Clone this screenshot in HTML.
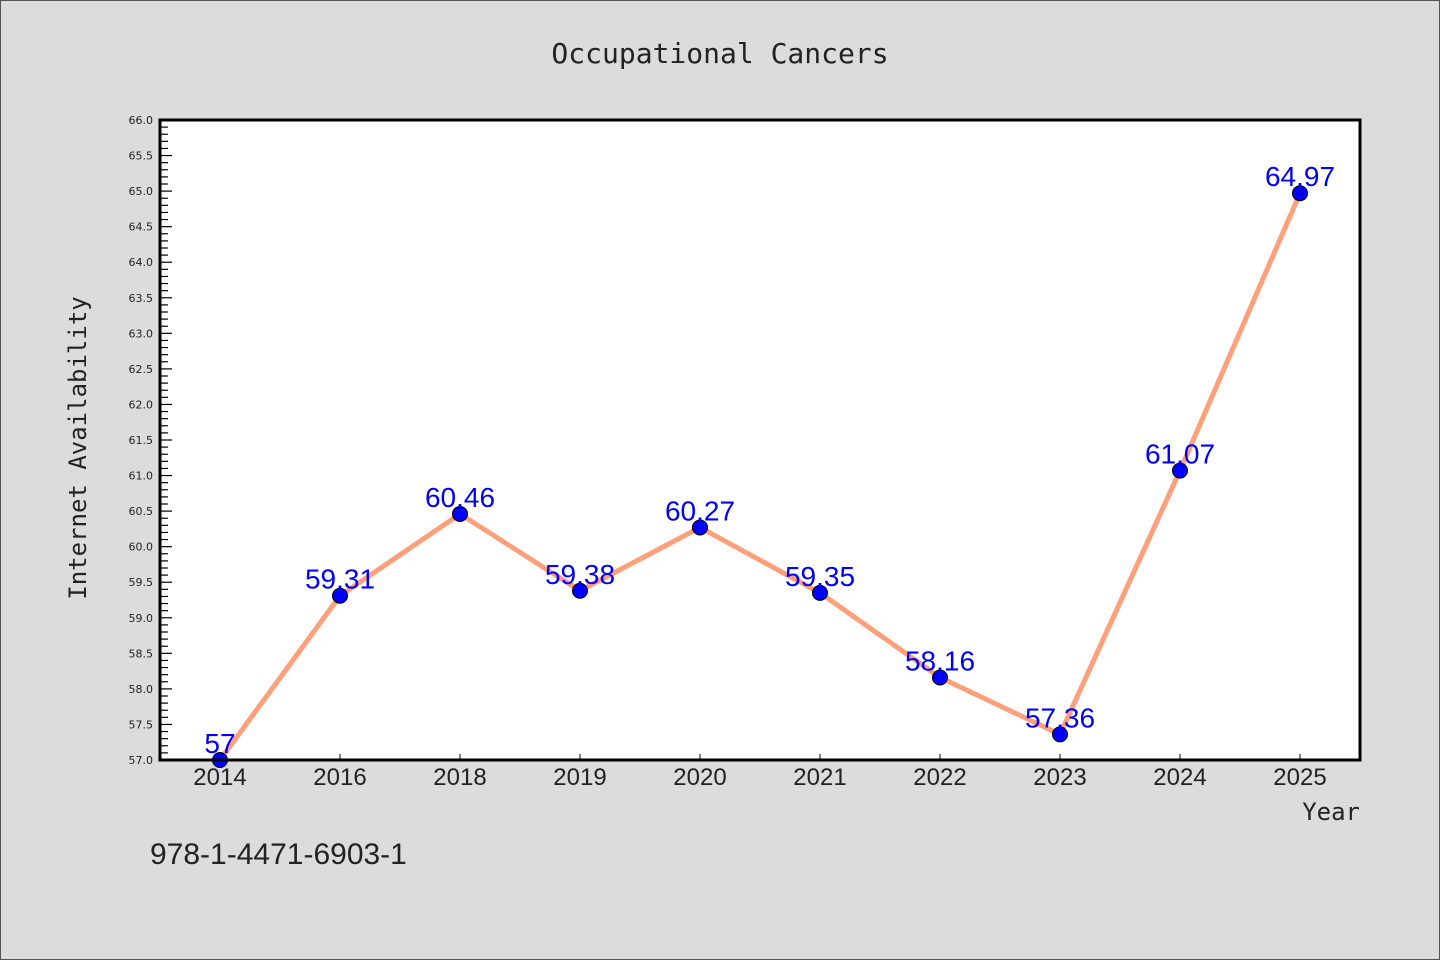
<!DOCTYPE html>
<html><head><meta charset="utf-8"><style>
html,body{margin:0;padding:0;background:#dcdcdc;}
svg{display:block;font-family:"DejaVu Sans Mono","Liberation Mono",monospace;}
</style></head><body>
<svg id="chart" width="1440" height="960" viewBox="0 0 1440 960">
<rect x="0.5" y="0.5" width="1439" height="959" fill="#dcdcdc" stroke="#555"/>
<text x="720" y="63" text-anchor="middle" font-size="28" fill="#222">Occupational Cancers</text>
<rect x="160" y="120" width="1200" height="640" fill="#fff"/>
<g id="yaxis"></g>
<g id="xaxis"></g>
<g id="series"></g>
<rect x="160" y="120" width="1200" height="640" fill="none" stroke="#000" stroke-width="3"/>
<text x="86" y="448" text-anchor="middle" font-size="24" fill="#222" transform="rotate(-90 86 448)">Internet Availability</text>
<text x="1360" y="820" text-anchor="end" font-size="24" fill="#222">Year</text>
<text x="150" y="864" font-size="30" fill="#222" font-family="'Liberation Sans',sans-serif">978-1-4471-6903-1</text>
</svg>
<script>
const categories=["2014","2016","2018","2019","2020","2021","2022","2023","2024","2025"];
const values=[57,59.31,60.46,59.38,60.27,59.35,58.16,57.36,61.07,64.97];
const valueLabels=["57","59.31","60.46","59.38","60.27","59.35","58.16","57.36","61.07","64.97"];
const yMin=57,yMax=66;
const NS="http://www.w3.org/2000/svg";
const L=160,R=1360,T=120,B=760;
function y(v){return B-(v-yMin)/(yMax-yMin)*(B-T);}
function x(i){return 220+i*120;}
function mk(tag,attrs,parent){const e=document.createElementNS(NS,tag);for(const k in attrs)e.setAttribute(k,attrs[k]);parent.appendChild(e);return e;}
const ya=document.getElementById('yaxis');
for(let k=0;k<=Math.round((yMax-yMin)*10);k++){
  const v=yMin+k/10,yy=y(v),major=k%5===0;
  const t=mk('line',{x1:L,x2:L+(major?12:8),y1:yy,y2:yy,stroke:'#000','stroke-width':1.2},ya);
  
  
  if(major){const tx=mk('text',{x:153,y:yy+4,'text-anchor':'end','font-size':11,fill:'#222','font-family':"'DejaVu Sans',sans-serif"},ya);tx.textContent=v.toFixed(1);
  
  }
}
const xa=document.getElementById('xaxis');
categories.forEach((c,i)=>{
  const t=mk('line',{x1:x(i),x2:x(i),y1:B,y2:B-6,stroke:'#000','stroke-width':1},xa);
  
  
  const tx=mk('text',{x:x(i),y:785,'text-anchor':'middle','font-size':24,fill:'#222','font-family':"'Liberation Sans',sans-serif"},xa);tx.textContent=c;
  
  
});
const s=document.getElementById('series');
const pl=mk('polyline',{points:values.map((v,i)=>x(i)+','+y(v)).join(' '),fill:'none',stroke:'#ffa07a','stroke-width':5},s);


values.forEach((v,i)=>{
  const c=mk('circle',{cx:x(i),cy:y(v),r:7.5,fill:'#0000ff',stroke:'#000','stroke-width':1},s);
  
  
  const tx=mk('text',{x:x(i),y:y(v)-7,'text-anchor':'middle','font-size':28,fill:'#0000ff','font-family':"'Liberation Sans',sans-serif"},s);tx.textContent=valueLabels[i];
  
  
});
</script>
</body></html>
